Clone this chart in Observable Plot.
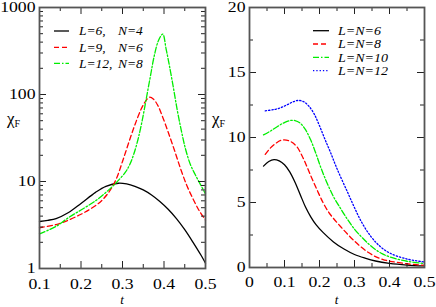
<!DOCTYPE html>
<html><head><meta charset="utf-8">
<script src="https://cdn.jsdelivr.net/npm/d3@7"></script>
<script src="https://cdn.jsdelivr.net/npm/@observablehq/plot@0.6"></script>
<style>
body{margin:0;background:#fff;}
#wrap{position:relative;width:436px;height:307px;overflow:hidden;background:#fff;}
#left,#right{position:absolute;top:0;}
#left{left:0;} #right{left:218px;}
#overlay{position:absolute;left:0;top:0;}
</style></head><body>
<div id="wrap"><div id="left"></div><div id="right"></div><svg id="overlay" width="436" height="307"></svg></div>
<script>
// ---------- Left panel data (log scale) ----------
const tL6 = [0.10,0.12,0.14,0.17,0.20,0.235,0.26,0.29,0.31,0.33,0.35,0.37,0.39,0.41,0.43,0.45,0.47,0.49,0.50];
const chiL6 = [3.47,3.58,3.75,4.4,5.6,7.5,8.8,9.55,9.37,8.8,8.0,7.0,5.9,4.8,3.75,2.8,2.0,1.4,1.15];
const tL9 = [0.10,0.14,0.17,0.20,0.22,0.24,0.255,0.27,0.285,0.30,0.315,0.33,0.345,0.355,0.365,0.375,0.385,0.395,0.41,0.425,0.44,0.455,0.47,0.485,0.50];
const chiL9 = [2.94,3.2,3.6,4.2,4.75,5.5,6.4,7.9,10.7,17,28,45,68,83,93,88,75,58,37,23,14,9.0,6.3,4.6,3.6];
const tL12 = [0.10,0.14,0.17,0.20,0.235,0.26,0.283,0.307,0.317,0.327,0.337,0.347,0.357,0.367,0.377,0.387,0.397,0.405,0.412,0.422,0.432,0.442,0.452,0.464,0.476,0.488,0.50];
const chiL12 = [2.5,3.05,3.85,4.7,6.0,7.5,9.5,12.8,15.5,20.5,30,49,88,160,285,420,495,335,228,125,66,38,23.5,15.5,11.8,9.2,7.2];
const leftLabelsL = ["L=6,", "L=9,", "L=12,"];
const leftLabelsN = ["N=4", "N=6", "N=8"];

// ---------- Right panel data (linear) ----------
const tN6 = [0.04,0.055,0.07,0.085,0.10,0.115,0.13,0.145,0.16,0.175,0.19,0.21,0.24,0.27,0.30,0.33,0.36,0.40,0.45,0.50];
const chiN6 = [7.8,8.15,8.3,8.2,7.9,7.35,6.55,5.6,4.65,3.9,3.3,2.7,1.97,1.42,1.0,0.72,0.5,0.32,0.19,0.12];
const tN8 = [0.045,0.06,0.075,0.09,0.105,0.12,0.135,0.15,0.165,0.18,0.195,0.21,0.225,0.24,0.26,0.28,0.30,0.32,0.34,0.36,0.38,0.40,0.45,0.50];
const chiN8 = [8.7,9.2,9.55,9.78,9.8,9.65,9.3,8.6,7.7,6.75,5.85,5.0,4.3,3.77,3.15,2.57,2.03,1.55,1.15,0.84,0.63,0.49,0.29,0.17];
const tN10 = [0.04,0.06,0.08,0.10,0.115,0.13,0.145,0.16,0.175,0.19,0.205,0.22,0.24,0.26,0.28,0.30,0.32,0.34,0.36,0.38,0.40,0.45,0.50];
const chiN10 = [10.2,10.5,10.85,11.15,11.3,11.3,11.1,10.6,9.8,8.75,7.6,6.6,5.45,4.55,3.7,2.95,2.35,1.82,1.38,1.05,0.82,0.48,0.3];
const tN12 = [0.045,0.07,0.09,0.11,0.125,0.14,0.155,0.17,0.185,0.20,0.215,0.23,0.25,0.28,0.30,0.32,0.345,0.37,0.40,0.45,0.50];
const chiN12 = [12.05,12.15,12.3,12.55,12.75,12.85,12.75,12.4,11.8,10.9,9.9,8.95,7.6,5.8,4.6,3.5,2.45,1.7,1.12,0.65,0.42];
const rightLabels = ["L=N=6", "L=N=8", "L=N=10", "L=N=12"];

// ---------- Ticks ----------
const xTicksL = [0.1,0.2,0.3,0.4,0.5];
const xTickLabelsL = ["0.1","0.2","0.3","0.4","0.5"];
const xMinorL = [0.15,0.25,0.35,0.45];
const yTicksL = [1,10,100,1000];
const yTickLabelsL = ["1","10","100","1000"];
const yMinorL = [2,3,4,5,6,7,8,9,20,30,40,50,60,70,80,90,200,300,400,500,600,700,800,900];
const xTicksR = [0,0.1,0.2,0.3,0.4,0.5];
const xTickLabelsR = ["0","0.1","0.2","0.3","0.4","0.5"];
const xMinorR = [0.05,0.15,0.25,0.35,0.45];
const yTicksR = [0,5,10,15,20];
const yTickLabelsR = ["0","5","10","15","20"];
const yMinorR = [2.5,7.5,12.5,17.5];

// ---------- styles ----------
const styles = [
  {stroke:"#000000", strokeDasharray:null},
  {stroke:"#ff0000", strokeDasharray:"5,3"},
  {stroke:"#00ee00", strokeDasharray:"6,2,1.5,2"},
  {stroke:"#0000ff", strokeDasharray:"1.3,2"}
];
const lw = 1.3;

function table(ts, vs){ return ts.map((t,i)=>({t, chi: vs[i]})); }
function lineMarks(series){
  return series.map((s,i)=>Plot.line(s, {x:"t", y:"chi", curve:"catmull-rom",
    stroke: styles[i].stroke, strokeWidth: lw, strokeDasharray: styles[i].strokeDasharray}));
}
function tickMarks(xMajor, xMinor, yMajor, yMinor, iw, ih){
  const tc = "#222", MJ = 7, MN = 4;
  return [
    Plot.tickX(xMajor, {x:d=>d, insetTop: ih-MJ, stroke:tc}),
    Plot.tickX(xMajor, {x:d=>d, insetBottom: ih-MJ, stroke:tc}),
    Plot.tickX(xMinor, {x:d=>d, insetTop: ih-MN, stroke:tc}),
    Plot.tickX(xMinor, {x:d=>d, insetBottom: ih-MN, stroke:tc}),
    Plot.tickY(yMajor, {y:d=>d, insetRight: iw-MJ, stroke:tc}),
    Plot.tickY(yMajor, {y:d=>d, insetLeft: iw-MJ, stroke:tc}),
    Plot.tickY(yMinor, {y:d=>d, insetRight: iw-MN, stroke:tc}),
    Plot.tickY(yMinor, {y:d=>d, insetLeft: iw-MN, stroke:tc})
  ];
}
function fmt(vals, labels){ const m = new Map(vals.map((v,i)=>[v,labels[i]])); return d => m.get(d) ?? ""; }
function stretchEl(t, s){
  const ax = parseFloat(t.getAttribute("x")) || 0;
  const tr = t.getAttribute("transform") || "";
  t.setAttribute("transform", `${tr} translate(${ax},0) scale(${s},1) translate(${-ax},0)`);
}
function stretch(svg, s){ svg.querySelectorAll("text").forEach(t=>stretchEl(t, s)); }
const font = {fontFamily:"'Liberation Serif', 'DejaVu Serif', serif", fontSize:"15px", color:"#000", background:"#fff", overflow:"visible"};

// ---------- Left plot ----------
const LW=218, LH=307, lm={l:39,r:13,t:7,b:39};
const liw = LW-lm.l-lm.r, lih = LH-lm.t-lm.b;
const leftSeries = [table(tL6,chiL6), table(tL9,chiL9), table(tL12,chiL12)];
const left = Plot.plot({
  width: LW, height: LH, marginLeft: lm.l, marginRight: lm.r, marginTop: lm.t, marginBottom: lm.b,
  style: font,
  x: {domain:[0.1,0.5]},
  y: {type:"log", domain:[1,1000]},
  marks: [
    ...lineMarks(leftSeries),
    ...tickMarks(xTicksL, xMinorL, yTicksL, yMinorL, liw, lih),
    Plot.axisX({ticks: xTicksL, tickSize:0, tickPadding:10, label:null, tickFormat: fmt(xTicksL,xTickLabelsL)}),
    Plot.axisY({ticks: yTicksL, tickSize:0, tickPadding:4, label:null, tickFormat: fmt(yTicksL,yTickLabelsL)}),
    Plot.frame({stroke:"#555", strokeWidth:1.8})
  ]
});
stretch(left, 1.18);
document.getElementById("left").appendChild(left);

// ---------- Right plot ----------
const RW=218, RH=307, rm={l:31,r:12,t:7,b:40};
const riw = RW-rm.l-rm.r, rih = RH-rm.t-rm.b;
const rightSeries = [table(tN6,chiN6), table(tN8,chiN8), table(tN10,chiN10), table(tN12,chiN12)];
const right = Plot.plot({
  width: RW, height: RH, marginLeft: rm.l, marginRight: rm.r, marginTop: rm.t, marginBottom: rm.b,
  style: font,
  x: {domain:[0,0.5]},
  y: {domain:[0,20]},
  marks: [
    ...lineMarks(rightSeries),
    ...tickMarks(xTicksR, xMinorR, yTicksR, yMinorR, riw, rih),
    Plot.axisX({ticks: xTicksR, tickSize:0, tickPadding:9, label:null, tickFormat: fmt(xTicksR,xTickLabelsR)}),
    Plot.axisY({ticks: yTicksR, tickSize:0, tickPadding:4, label:null, tickFormat: fmt(yTicksR,yTickLabelsR)}),
    Plot.frame({stroke:"#555", strokeWidth:1.8})
  ]
});
stretch(right, 1.18);
document.getElementById("right").appendChild(right);

// ---------- Overlay: legends and axis titles ----------
const ov = d3.select("#overlay");
const serif = "'Liberation Serif', 'DejaVu Serif', serif";
function legend(x1, x2, xt, ys, fs, sx, labels, labels2, xt2){
  ys.forEach((y,i)=>{
    ov.append("line").attr("x1",x1).attr("x2",x2).attr("y1",y).attr("y2",y)
      .attr("stroke",styles[i].stroke).attr("stroke-width",lw)
      .attr("stroke-dasharray",styles[i].strokeDasharray);
    const a = ov.append("text").attr("x",xt).attr("y",y+4.3).attr("font-family",serif)
      .attr("font-style","italic").attr("font-size",fs).text(labels[i]);
    stretchEl(a.node(), sx);
    if (labels2) {
      const b = ov.append("text").attr("x",xt2).attr("y",y+4.3).attr("font-family",serif)
        .attr("font-style","italic").attr("font-size",fs).text(labels2[i]);
      stretchEl(b.node(), sx);
    }
  });
}
legend(54, 69, 79, [31, 47.3, 63.3], 13.5, 1.0, leftLabelsL, leftLabelsN, 118);
legend(313, 329, 338, [30.7, 44, 57.3, 70.7], 11.5, 1.22, rightLabels);

function ytitle(x, y){
  const t = ov.append("text").attr("x",x).attr("y",y).attr("font-family",serif);
  t.append("tspan").attr("font-size",17).text("χ");
  t.append("tspan").attr("font-size",10).attr("dy",3).text("F");
}
ytitle(7, 124);
ytitle(212, 124);
function xtitle(x){
  ov.append("text").attr("x",x).attr("y",304).attr("text-anchor","middle")
    .attr("font-family",serif).attr("font-style","italic").attr("font-size",13).text("t");
}
xtitle(122);
xtitle(336.5);
</script>
</body></html>
